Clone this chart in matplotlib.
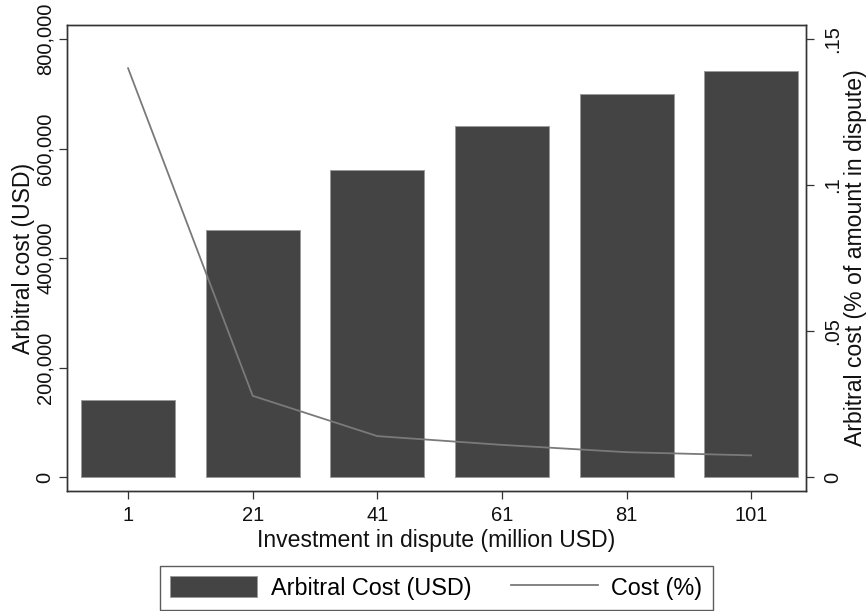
import matplotlib
matplotlib.use("Agg")
import matplotlib.pyplot as plt
from matplotlib.patches import Patch
from matplotlib.lines import Line2D
from matplotlib.ticker import FuncFormatter

plt.rcParams['font.family'] = ['Liberation Sans', 'DejaVu Sans']

# investment in dispute (million USD)
investment = [1, 21, 41, 61, 81, 101]
# arbitral cost in USD
cost_usd = [140000, 452000, 560000, 642000, 700000, 742000]
# arbitral cost as share of amount in dispute
cost_pct = [0.140, 0.0278, 0.0140, 0.0110, 0.0085, 0.0074]

yticks_left = [0, 200000, 400000, 600000, 800000]
yticks_right = [0, 0.05, 0.10, 0.15]
yticklabels_right = ['0', '.05', '.1', '.15']

bar_color = '#444444'
line_color = '#7a7a7a'
frame_color = '#333333'
text_color = '#111111'
tick_fs = 14.5
title_fs = 16.6
legend_fs = 16.8

fig = plt.figure(figsize=(8.68, 6.11), dpi=100)
ax = fig.add_axes([0.0772, 0.1964, 0.8514, 0.7627])
ax2 = ax.twinx()

ax.bar(investment, cost_usd, width=15.1, color=bar_color,
       edgecolor='#9a9a9a', linewidth=0.7, zorder=2)
ax2.plot(investment, cost_pct, color=line_color, linewidth=1.3)

ax.set_xlim(-8.8, 109.8)
ax.set_ylim(-25570, 825600)
ax2.set_ylim(-25570 / 800000 * 0.15, 825600 / 800000 * 0.15)

ax.set_xticks(investment)
ax.set_xticklabels([str(v) for v in investment])
ax.set_yticks(yticks_left)
ax.yaxis.set_major_formatter(FuncFormatter(lambda v, p: '{:,}'.format(int(v))))
ax2.set_yticks(yticks_right)
ax2.set_yticklabels(yticklabels_right)

for a in (ax, ax2):
    for s in a.spines.values():
        s.set_color(frame_color)
        s.set_linewidth(1.0)
    a.tick_params(direction='out', length=5.5, width=0.9, color=frame_color,
                  labelsize=tick_fs, labelcolor=text_color)

ax.tick_params(axis='y', labelrotation=90, pad=3.5)
for lab in ax.get_yticklabels():
    lab.set_verticalalignment('center')
ax2.tick_params(axis='y', labelrotation=90, pad=7)
for lab in ax2.get_yticklabels():
    lab.set_verticalalignment('center')
ax.tick_params(axis='x', pad=5)

ax.set_xlabel('Investment in dispute (million USD)', fontsize=title_fs,
              labelpad=3, color=text_color)
ax.set_ylabel('Arbitral cost (USD)', fontsize=title_fs, labelpad=0.5,
              color=text_color)
ax2.set_ylabel('Arbitral cost (% of amount in dispute)', fontsize=title_fs,
               labelpad=1, color=text_color)

handles = [Patch(facecolor=bar_color, edgecolor='#9a9a9a', linewidth=0.7),
           Line2D([0], [0], color=line_color, linewidth=1.3)]
leg = fig.legend(handles, ['Arbitral Cost (USD)', 'Cost (%)'], ncol=2,
                 loc='center', bbox_to_anchor=(436.5 / 868, 1 - 588 / 611),
                 fontsize=legend_fs, frameon=True, fancybox=False,
                 handlelength=3.72, handleheight=1.0, handletextpad=0.57,
                 columnspacing=1.72, borderpad=0.45, borderaxespad=0)
leg.get_frame().set_edgecolor(frame_color)
leg.get_frame().set_linewidth(1.0)

fig.savefig('out.png', dpi=100)
